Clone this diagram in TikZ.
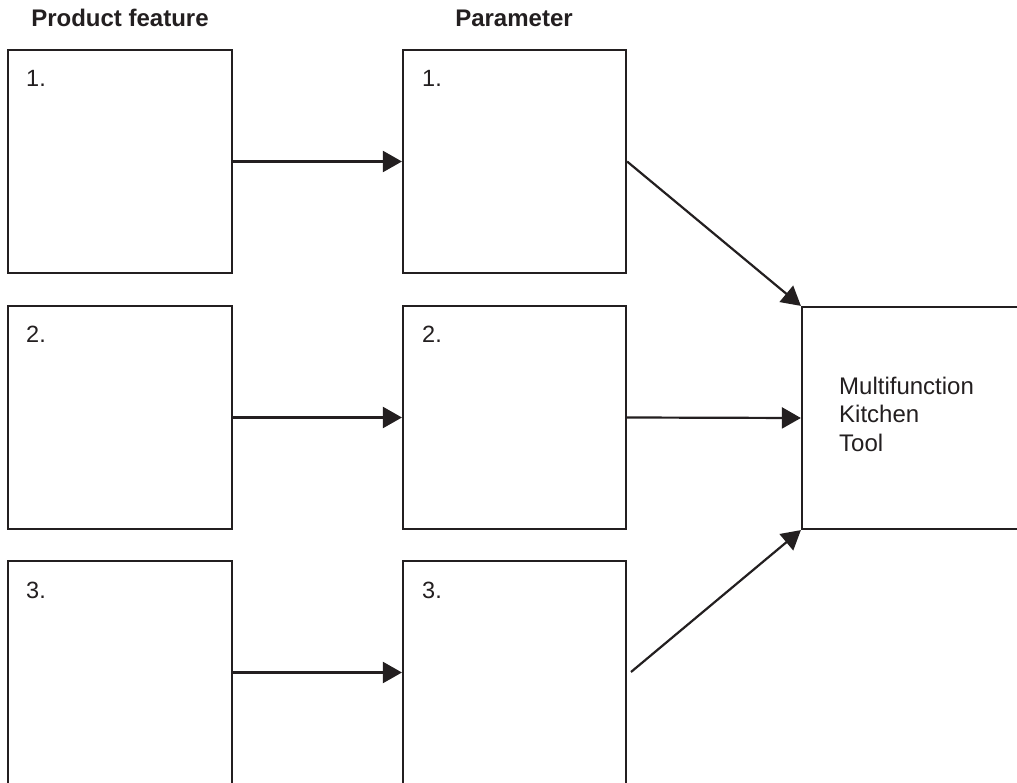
\documentclass[tikz,border=0pt]{standalone}
\usepackage{fontspec}
\setmainfont{Liberation Sans}
\usetikzlibrary{arrows.meta}
\definecolor{ink}{HTML}{231F20}
\begin{document}
\begin{tikzpicture}[x=1pt,y=-1pt,
  box/.style={draw=ink,line width=2.2pt,rectangle,inner sep=0pt,minimum width=224pt,minimum height=223pt},
  mbox/.style={box,minimum width=223pt},
  num/.style={anchor=base west,inner sep=0pt,font=\fontsize{23.5}{28}\selectfont,text=ink},
  head/.style={anchor=base,inner sep=0pt,font=\fontsize{24}{28}\selectfont\bfseries,text=ink},
  arr/.style={draw=ink,line width=2.2pt,-{Triangle[length=19pt,width=21pt]}}]
\useasboundingbox (0,0) rectangle (1017,783);
\clip (0,0) rectangle (1017,783);
\fill[white] (0,0) rectangle (1017,783);
\node[head] (h1) at (120,27) {Product feature};
\node[head] (h2) at (514,27) {Parameter};
\node[box] (L1) at (120,161.5) {};
\node[box] (L2) at (120,417.5) {};
\node[box] (L3) at (120,672.5) {};
\node[mbox] (M1) at (514.5,161.5) {};
\node[mbox] (M2) at (514.5,417.5) {};
\node[mbox] (M3) at (514.5,672.5) {};
\node[box,minimum width=300pt,minimum height=222pt] (T) at (952,418) {};
\node[num] (l1) at (26,87) {1.};
\node[num] (l2) at (26,343) {2.};
\node[num] (l3) at (26,598) {3.};
\node[num] (m1) at (422,87) {1.};
\node[num] (m2) at (422,343) {2.};
\node[num] (m3) at (422,598) {3.};
\node[anchor=north west,inner sep=0pt,align=left,font=\fontsize{24}{28.5}\selectfont,text=ink] (tt) at (839,376.5) {Multifunction\\Kitchen\\Tool};
\coordinate (c3) at (631,672);
\draw[arr] (L1.east) -- (M1.west);
\draw[arr] (L2.east) -- (M2.west);
\draw[arr] (L3.east) -- (M3.west);
\draw[arr] (M1.east) -- (T.north west);
\draw[arr] (M2.east) -- (T.west);
\draw[arr] (c3) -- (T.south west);
\end{tikzpicture}
\end{document}
